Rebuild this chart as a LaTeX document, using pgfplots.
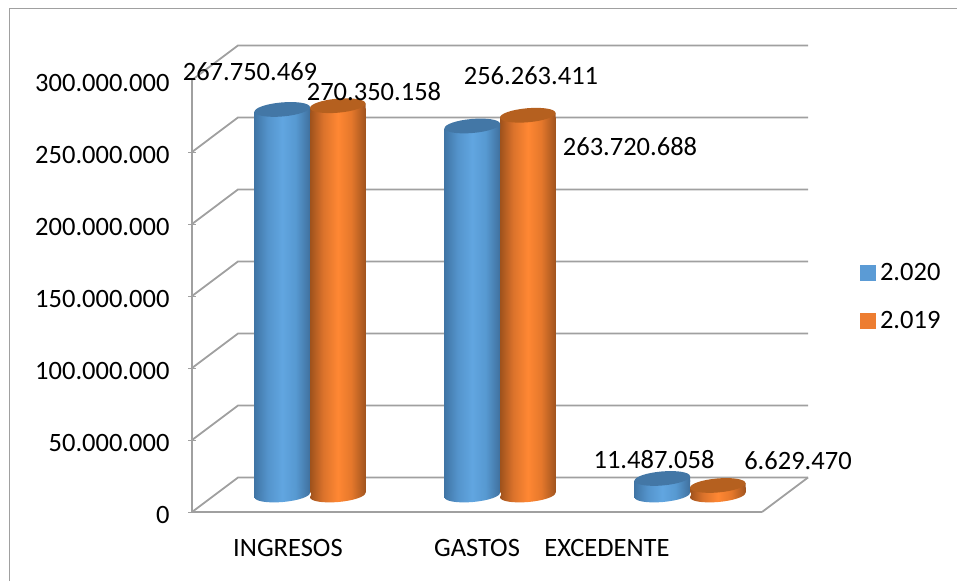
\documentclass[border=0pt]{standalone}
\usepackage{fontspec}
\setmainfont{Carlito}
\usepackage{pgfplots}
\usepackage{pgfplotstable}
\pgfplotsset{compat=1.18}

\definecolor{wallgray}{HTML}{A0A0A0}
\definecolor{framegray}{HTML}{A0A0A0}
\definecolor{capblue}{HTML}{4377A6}
\definecolor{caporange}{HTML}{B5601F}
\definecolor{legblue}{HTML}{5B9BD5}
\definecolor{legorange}{HTML}{ED7D31}

% shadings fitted to the bar: 25bp is the left edge, 75bp the right edge
\pgfdeclarehorizontalshading{cylblue}{100bp}{
  rgb(0bp)=(0.25,0.46,0.65); rgb(25bp)=(0.25,0.46,0.65); rgb(37bp)=(0.33,0.58,0.80);
  rgb(50bp)=(0.38,0.65,0.88); rgb(62bp)=(0.34,0.60,0.82); rgb(75bp)=(0.25,0.44,0.62); rgb(100bp)=(0.25,0.44,0.62)}
\pgfdeclarehorizontalshading{cylorange}{100bp}{
  rgb(0bp)=(0.62,0.32,0.11); rgb(25bp)=(0.62,0.32,0.11); rgb(37bp)=(0.86,0.45,0.17);
  rgb(50bp)=(1.0,0.53,0.20); rgb(62bp)=(0.90,0.47,0.17); rgb(75bp)=(0.63,0.33,0.12); rgb(100bp)=(0.63,0.33,0.12)}

% tilted ellipse of a cylinder end, centred 2.4pt above the data point
\newcommand{\cylellipse}{\pgfpathellipse{\pgfpoint{0pt}{2.4pt}}{\pgfpoint{27.75pt}{2.4pt}}{\pgfpoint{-0.6pt}{7pt}}}
% cylinder ends, so that the bar rectangle meets them at the low left point
\newcommand{\cylmarks}[4]{%
  \pgfdeclareplotmark{#1top}{%
    \pgftransformxshift{#4pt}%
    \begin{pgfscope}
      \pgfpathmoveto{\pgfpoint{-27.75pt}{-1pt}}\pgfpathlineto{\pgfpoint{27.75pt}{-1pt}}%
      \pgfpathlineto{\pgfpoint{27.75pt}{4.8pt}}\pgfpathlineto{\pgfpoint{-27.75pt}{0pt}}\pgfpathclose
      \pgfshadepath{#2}{0}\pgfusepath{discard}%
    \end{pgfscope}
    \begin{pgfscope}
      \pgfsetfillcolor{#3}\cylellipse\pgfusepathqfill
    \end{pgfscope}}%
  \pgfdeclareplotmark{#1base}{%
    \pgftransformxshift{#4pt}%
    \begin{pgfscope}
      \pgfsetfillcolor{white}%
      \pgfpathmoveto{\pgfpoint{-27.75pt}{-1.5pt}}\pgfpathlineto{\pgfpoint{28.5pt}{-1.5pt}}%
      \pgfpathlineto{\pgfpoint{28.5pt}{4.8pt}}\pgfpathlineto{\pgfpoint{-27.75pt}{0pt}}\pgfpathclose
      \pgfusepathqfill
    \end{pgfscope}
    \begin{pgfscope}
      \cylellipse\pgfshadepath{#2}{0}\pgfusepath{discard}%
    \end{pgfscope}}%
}
\cylmarks{blue}{cylblue}{capblue}{-27.75}
\cylmarks{orange}{cylorange}{caporange}{27.75}

\pgfplotstableread{
x   y2020     y2019
0.5 267750469 270350158
1.5 256263411 263720688
2.5 11487058  6629470
}\datatable

\pgfplotstableread{
x   y
0.5 0
1.5 0
2.5 0
}\basetable

\newcommand{\bigfont}{\fontsize{26.5}{31}\selectfont}
% back wall lines: depth is 46px across and 34.5px up
\newcommand{\wall}[1]{%
  \addplot[wallgray,line width=1.8pt] coordinates {(0,#1) (0.2421,#1+23960000) (3.2421,#1+23960000)};}

\pgfplotsset{
  cylblue bar/.style={ybar,bar width=55.5pt,bar shift=-27.75pt,draw=none,shade,shading=cylblue,forget plot},
  cylorange bar/.style={ybar,bar width=55.5pt,bar shift=27.75pt,draw=none,shade,shading=cylorange,forget plot},
}

\begin{document}
\begin{tikzpicture}
\useasboundingbox (0pt,0pt) rectangle (957pt,581pt);
\draw[framegray,line width=1pt] (9pt,0pt) -- (9pt,572.5pt) -- (957pt,572.5pt);

\begin{axis}[
    at={(192pt,69pt)}, anchor=origin,
    scale only axis, width=570pt, height=432pt,
    xmin=0, xmax=3, ymin=0, ymax=300000000,
    clip=false,
    axis x line=bottom, axis y line=left,
    axis line style={wallgray,line width=1.8pt,-},
    xtick={0.505,1.5,2.184},
    xticklabels={INGRESOS,GASTOS,EXCEDENTE},
    x tick style={draw=none},
    extra x ticks={0,1,2,3},
    extra x tick labels={},
    extra x tick style={tick style={wallgray,line width=1pt,draw=wallgray}},
    scaled y ticks=false,
    ytick={0,50000000,100000000,150000000,200000000,250000000,300000000},
    yticklabels={0,50.000.000,100.000.000,150.000.000,200.000.000,250.000.000,300.000.000},
    y tick style={wallgray,line width=1pt},
    major tick length=8pt,
    tick label style={font=\bigfont},
    x tick label style={yshift=-20pt},
    y tick label style={xshift=-15pt,yshift=-3pt},
  ]
  \wall{0}\wall{50000000}\wall{100000000}\wall{150000000}
  \wall{200000000}\wall{250000000}\wall{300000000}
  \addplot[wallgray,line width=1.8pt] coordinates {(3,0) (3.2421,23960000)};
\end{axis}

\begin{axis}[
    at={(215pt,83.6pt)}, anchor=origin,
    scale only axis, width=570pt, height=432pt,
    xmin=0, xmax=3, ymin=0, ymax=300000000,
    clip=false, axis lines=none,
    legend style={at={(1.1316,0.465)},anchor=west,draw=none,fill=none,
      font=\bigfont,row sep=29pt,inner sep=0pt,nodes={inner sep=0pt}},
    legend cell align=left,
  ]
  % 2.020, one plot for each bar so that the shading fits each bar
  \addplot[cylblue bar] coordinates {(0.5,267750469)};
  \addplot[cylblue bar] coordinates {(1.5,256263411)};
  \addplot[cylblue bar] coordinates {(2.5,11487058)};
  \addplot[only marks,mark=bluebase,forget plot] table[x=x,y=y] {\basetable};
  \addplot[only marks,mark=bluetop,forget plot] table[x=x,y=y2020] {\datatable};
  % 2.019
  \addplot[cylorange bar] coordinates {(0.5,270350158)};
  \addplot[cylorange bar] coordinates {(1.5,263720688)};
  \addplot[cylorange bar] coordinates {(2.5,6629470)};
  \addplot[only marks,mark=orangebase,forget plot] table[x=x,y=y] {\basetable};
  \addplot[only marks,mark=orangetop,forget plot] table[x=x,y=y2019] {\datatable};

  \addlegendimage{legend image code/.code={\fill[legblue] (0pt,-7.5pt) rectangle (15pt,7.5pt);}}
  \addlegendentry{\,2.020}
  \addlegendimage{legend image code/.code={\fill[legorange] (0pt,-7.5pt) rectangle (15pt,7.5pt);}}
  \addlegendentry{\,2.019}
\end{axis}

\tikzset{val/.style={font=\bigfont,text=black,inner sep=0pt}}
\node[val] at (250pt,509pt) {267.750.469};
\node[val] at (374pt,489pt) {270.350.158};
\node[val] at (531pt,505pt) {256.263.411};
\node[val] at (630pt,434pt) {263.720.688};
\node[val] at (654pt,121pt) {11.487.058};
\node[val] at (798pt,120pt) {6.629.470};
\end{tikzpicture}
\end{document}
